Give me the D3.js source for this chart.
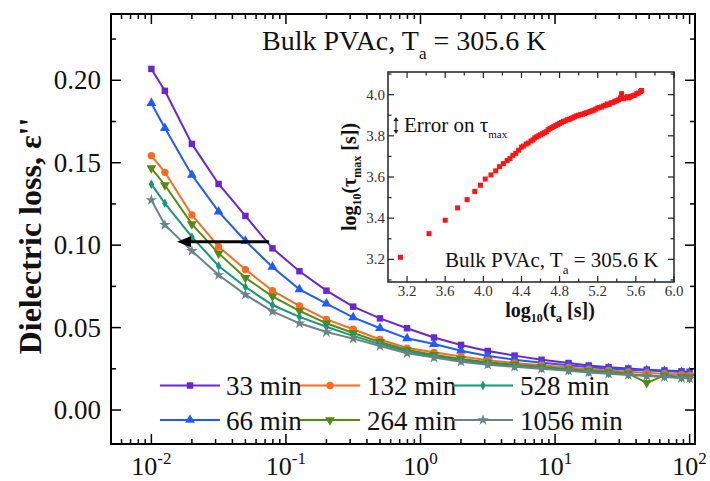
<!DOCTYPE html>
<html><head><meta charset="utf-8">
<script src="https://cdn.jsdelivr.net/npm/d3@7"></script>
<style>body{margin:0;background:#fff}svg{display:block}</style>
</head><body>
<svg id="c" width="710" height="481"></svg>
<script>
// ---------- data ----------
const freq = [0.01, 0.0126, 0.02, 0.0316, 0.05, 0.0794, 0.126, 0.2, 0.316, 0.5, 0.794, 1.26, 2, 3.16, 5, 7.94, 12.6, 17.8, 25, 35, 48, 65, 87, 100];
const seriesNames = ["33 min", "66 min", "132 min", "264 min", "528 min", "1056 min"];
const eps33   = [0.2069,0.1936,0.1614,0.1371,0.1177,0.0981,0.0842,0.0724,0.0627,0.0556,0.0496,0.0440,0.0395,0.0358,0.0330,0.0305,0.0285,0.0270,0.0260,0.0252,0.0245,0.0240,0.0235,0.0232];
const eps66   = [0.1861,0.1710,0.1426,0.1203,0.1025,0.0868,0.0732,0.0645,0.0562,0.0496,0.0435,0.0400,0.0360,0.0328,0.0305,0.0287,0.0272,0.0260,0.0252,0.0245,0.0240,0.0235,0.0230,0.0228];
const eps132  = [0.1543,0.1442,0.1183,0.0991,0.0852,0.0724,0.0632,0.0550,0.0490,0.0428,0.0376,0.0350,0.0325,0.0302,0.0286,0.0272,0.0258,0.0248,0.0240,0.0232,0.0225,0.0220,0.0215,0.0212];
const eps264  = [0.1467,0.1365,0.1128,0.0950,0.0802,0.0690,0.0602,0.0526,0.0467,0.0413,0.0364,0.0335,0.0310,0.0290,0.0275,0.0262,0.0248,0.0238,0.0230,0.0222,0.0165,0.0210,0.0202,0.0198];
const eps528  = [0.1370,0.1254,0.1050,0.0874,0.0746,0.0637,0.0565,0.0505,0.0450,0.0400,0.0355,0.0326,0.0300,0.0282,0.0268,0.0255,0.0242,0.0232,0.0224,0.0217,0.0210,0.0203,0.0197,0.0193];
const eps1056 = [0.1274,0.1123,0.0965,0.0819,0.0700,0.0598,0.0526,0.0473,0.0433,0.0388,0.0344,0.0318,0.0293,0.0275,0.0262,0.0250,0.0238,0.0228,0.0220,0.0213,0.0207,0.0200,0.0195,0.0191];
const yTicks = [0.00, 0.05, 0.10, 0.15, 0.20];
const xTickExps = [-2, -1, 0, 1, 2];
// arrow: from f=0.075 to f=0.0155 at eps''=0.1021
const arrowFreqs = [0.075, 0.0155];
const arrowEps = 0.1021;
// inset: log10(ta) vs log10(tau_max)
const insetLogTa = [3.13,3.43,3.60,3.73,3.83,3.91,3.97,4.02,4.08,4.13,4.17,4.21,4.25,4.28,4.31,4.34,4.37,4.40,4.42,4.45,4.47,4.50,4.52,4.54,4.56,4.58,4.60,4.62,4.64,4.66,4.68,4.70,4.72,4.74,4.76,4.78,4.80,4.82,4.84,4.86,4.88,4.90,4.92,4.94,4.96,4.98,5.00,5.02,5.04,5.06,5.08,5.10,5.12,5.14,5.16,5.18,5.20,5.22,5.24,5.26,5.28,5.30,5.32,5.34,5.36,5.38,5.40,5.42,5.44,5.45,5.47,5.49,5.51,5.53,5.55,5.57,5.59,5.61,5.63,5.65,5.66];
const insetLogTau = [3.21,3.325,3.39,3.45,3.49,3.53,3.56,3.59,3.61,3.63,3.65,3.665,3.68,3.69,3.705,3.715,3.73,3.745,3.75,3.76,3.765,3.775,3.78,3.79,3.795,3.80,3.805,3.81,3.815,3.82,3.83,3.835,3.84,3.845,3.85,3.855,3.86,3.865,3.87,3.872,3.878,3.88,3.885,3.888,3.893,3.897,3.90,3.903,3.905,3.908,3.912,3.915,3.918,3.922,3.925,3.93,3.935,3.938,3.94,3.945,3.948,3.955,3.952,3.96,3.962,3.968,3.97,3.975,3.985,4.005,3.98,3.985,3.99,3.985,3.992,3.995,3.998,4.005,4.008,4.015,4.02];
const insetXTicks = [3.2,3.6,4.0,4.4,4.8,5.2,5.6,6.0];
const insetYTicks = [3.2,3.4,3.6,3.8,4.0];

// ---------- styles ----------
const colors = ["#6a26d4", "#1f5bff", "#ff6a1e", "#578a12", "#17977a", "#688585"];
const symbols = [d3.symbolSquare, d3.symbolTriangle, d3.symbolCircle, d3.symbolTriangle, d3.symbolDiamond, d3.symbolStar];
const symSize = [42, 42, 42, 42, 26, 40];
const rot = [0, 0, 0, 180, 0, 0];
const allSeries = [eps33, eps66, eps132, eps264, eps528, eps1056];
const FONT = '"Liberation Serif", "Times New Roman", serif';

const svg = d3.select("#c");
const L = 111, R = 695, T = 14, B = 444;
const x = d3.scaleLog().domain([Math.pow(10, -2.3), Math.pow(10, 2.04)]).range([L, R]);
const y = d3.scaleLinear().domain([-0.0206, 0.2402]).range([B, T]);

function txt(sel, size) { return sel.style("font-family", FONT).style("font-size", size + "px").attr("fill", "#111"); }

// ---------- curves ----------
const line = d3.line().x((d, i) => x(freq[i])).y(d => y(d));
allSeries.forEach((s, k) => {
  const g = svg.append("g");
  g.append("path").attr("d", line(s)).attr("fill", "none").attr("stroke", colors[k]).attr("stroke-width", 2);
  g.selectAll("path.m").data(s).join("path").attr("class", "m")
    .attr("transform", (d, i) => `translate(${x(freq[i])},${y(d)}) rotate(${rot[k]})`)
    .attr("d", d3.symbol().type(symbols[k]).size(symSize[k])).attr("fill", colors[k]);
});

// ---------- black arrow ----------
{
  const x1 = x(arrowFreqs[0]), x2 = x(arrowFreqs[1]), ya = y(arrowEps);
  svg.append("line").attr("x1", x1).attr("x2", x2 + 10).attr("y1", ya).attr("y2", ya).attr("stroke", "#000").attr("stroke-width", 3);
  svg.append("path").attr("d", `M${x2},${ya} L${x2 + 14},${ya - 5.5} L${x2 + 14},${ya + 5.5} Z`).attr("fill", "#000");
}

// ---------- main axes ----------
const frame = svg.append("g");
frame.append("rect").attr("x", L).attr("y", T).attr("width", R - L).attr("height", B - T).attr("fill", "none").attr("stroke", "#000").attr("stroke-width", 2);
const xMinor = [];
for (let e = -3; e <= 2; e++) for (let m = 2; m <= 9; m++) { const v = m * Math.pow(10, e); if (x(v) > L + 1 && x(v) < R - 1) xMinor.push(v); }
xMinor.forEach(v => {
  frame.append("line").attr("x1", x(v)).attr("x2", x(v)).attr("y1", B).attr("y2", B - 5).attr("stroke", "#000").attr("stroke-width", 1.5);
  frame.append("line").attr("x1", x(v)).attr("x2", x(v)).attr("y1", T).attr("y2", T + 5).attr("stroke", "#000").attr("stroke-width", 1.5);
});
xTickExps.forEach(e => {
  const v = Math.pow(10, e);
  frame.append("line").attr("x1", x(v)).attr("x2", x(v)).attr("y1", B).attr("y2", B - 10).attr("stroke", "#000").attr("stroke-width", 1.5);
  frame.append("line").attr("x1", x(v)).attr("x2", x(v)).attr("y1", T).attr("y2", T + 10).attr("stroke", "#000").attr("stroke-width", 1.5);
  const t = txt(frame.append("text"), 26).attr("x", x(v)).attr("y", 475).attr("text-anchor", "middle");
  t.append("tspan").text("10");
  t.append("tspan").attr("dy", -11).style("font-size", "17px").text(e < 0 ? "-" + (-e) : String(e));
});
yTicks.forEach(v => {
  frame.append("line").attr("x1", L).attr("x2", L + 10).attr("y1", y(v)).attr("y2", y(v)).attr("stroke", "#000").attr("stroke-width", 1.5);
  frame.append("line").attr("x1", R).attr("x2", R - 10).attr("y1", y(v)).attr("y2", y(v)).attr("stroke", "#000").attr("stroke-width", 1.5);
  txt(frame.append("text"), 27).attr("x", L - 10).attr("y", y(v) + 9).attr("text-anchor", "end").text(d3.format(".2f")(v));
});
yTicks.map(v => v + 0.025).forEach(v => {
  frame.append("line").attr("x1", L).attr("x2", L + 5).attr("y1", y(v)).attr("y2", y(v)).attr("stroke", "#000").attr("stroke-width", 1.5);
  frame.append("line").attr("x1", R).attr("x2", R - 5).attr("y1", y(v)).attr("y2", y(v)).attr("stroke", "#000").attr("stroke-width", 1.5);
});
txt(svg.append("text"), 32).attr("transform", "translate(41,236) rotate(-90)").attr("text-anchor", "middle")
  .style("font-weight", "bold").text("Dielectric loss, ε''");
{
  const t = txt(svg.append("text"), 28).attr("x", 262).attr("y", 50);
  t.append("tspan").text("Bulk PVAc, T");
  t.append("tspan").attr("dy", 9).style("font-size", "17px").text("a");
  t.append("tspan").attr("dy", -9).text(" = 305.6 K");
}

// ---------- legend ----------
const legRows = [385.5, 420];
const legCols = [[160, 220, 226], [300, 360, 367], [453, 513, 520]];
const legOrder = [[0, 2, 4], [1, 3, 5]];
legOrder.forEach((row, r) => row.forEach((k, c) => {
  const [a, b, tx] = legCols[c], yy = legRows[r];
  svg.append("line").attr("x1", a).attr("x2", b).attr("y1", yy).attr("y2", yy).attr("stroke", colors[k]).attr("stroke-width", 2);
  svg.append("path").attr("transform", `translate(${(a + b) / 2},${yy}) rotate(${rot[k]})`)
    .attr("d", d3.symbol().type(symbols[k]).size(symSize[k])).attr("fill", colors[k]);
  txt(svg.append("text"), 27).attr("x", tx).attr("y", yy + 9.5).text(seriesNames[k]);
}));

// ---------- inset ----------
const iL = 388, iR = 674, iT = 72, iB = 282;
const ix = d3.scaleLinear().domain([3.0, 6.0]).range([iL, iR]);
const iy = d3.scaleLinear().domain([3.09, 4.11]).range([iB, iT]);
const ins = svg.append("g");
ins.append("rect").attr("x", iL).attr("y", iT).attr("width", iR - iL).attr("height", iB - iT).attr("fill", "#fff").attr("stroke", "#222").attr("stroke-width", 1.5);
d3.range(3.2, 6.01, 0.2).forEach(v => {
  const major = Math.abs(((v - 3.2) / 0.4) - Math.round((v - 3.2) / 0.4)) < 1e-6;
  const len = major ? 6 : 3.5;
  ins.append("line").attr("x1", ix(v)).attr("x2", ix(v)).attr("y1", iB).attr("y2", iB - len).attr("stroke", "#222").attr("stroke-width", 1.2);
  ins.append("line").attr("x1", ix(v)).attr("x2", ix(v)).attr("y1", iT).attr("y2", iT + len).attr("stroke", "#222").attr("stroke-width", 1.2);
});
insetXTicks.forEach(v => {
  txt(ins.append("text"), 15).attr("x", ix(v)).attr("y", 296).attr("text-anchor", "middle").attr("fill", "#333").text(v.toFixed(1));
});
d3.range(3.1, 4.11, 0.1).forEach(v => {
  const major = Math.abs(v * 5 - Math.round(v * 5)) < 1e-6;
  const len = major ? 6 : 3.5;
  ins.append("line").attr("x1", iL).attr("x2", iL + len).attr("y1", iy(v)).attr("y2", iy(v)).attr("stroke", "#222").attr("stroke-width", 1.2);
  ins.append("line").attr("x1", iR).attr("x2", iR - len).attr("y1", iy(v)).attr("y2", iy(v)).attr("stroke", "#222").attr("stroke-width", 1.2);
});
insetYTicks.forEach(v => {
  txt(ins.append("text"), 15).attr("x", iL - 3).attr("y", iy(v) + 5).attr("text-anchor", "end").attr("fill", "#333").text(v.toFixed(1));
});
ins.selectAll("rect.pt").data(insetLogTa).join("rect").attr("class", "pt")
  .attr("x", (d) => ix(d) - 2.5).attr("y", (d, i) => iy(insetLogTau[i]) - 2.5).attr("width", 5).attr("height", 5).attr("fill", "#ff1414");
{
  const t = txt(svg.append("text"), 20).attr("x", 550).attr("y", 317).attr("text-anchor", "middle").style("font-weight", "bold");
  t.append("tspan").text("log");
  t.append("tspan").attr("dy", 5).style("font-size", "12px").text("10");
  t.append("tspan").attr("dy", -5).text("(t");
  t.append("tspan").attr("dy", 5).style("font-size", "12px").text("a");
  t.append("tspan").attr("dy", -5).text(" [s])");
}
{
  const t = txt(svg.append("text"), 20).attr("transform", "translate(356,177) rotate(-90)").attr("text-anchor", "middle").style("font-weight", "bold");
  t.append("tspan").text("log");
  t.append("tspan").attr("dy", 5).style("font-size", "12px").text("10");
  t.append("tspan").attr("dy", -5).text("(τ");
  t.append("tspan").attr("dy", 5).style("font-size", "12px").text("max");
  t.append("tspan").attr("dy", -5).text(" [s])");
}
{
  const t = txt(svg.append("text"), 21).attr("x", 445).attr("y", 267);
  t.append("tspan").text("Bulk PVAc, T");
  t.append("tspan").attr("dy", 7).style("font-size", "13px").text("a");
  t.append("tspan").attr("dy", -7).text(" = 305.6 K");
}
{
  const t = txt(svg.append("text"), 21).attr("x", 404).attr("y", 132);
  t.append("tspan").text("Error on τ");
  t.append("tspan").attr("dy", 6).style("font-size", "11px").text("max");
  const ex = 396, e1 = 117, e2 = 134;
  svg.append("line").attr("x1", ex).attr("x2", ex).attr("y1", e1 + 2).attr("y2", e2 - 2).attr("stroke", "#222").attr("stroke-width", 1.2);
  svg.append("path").attr("d", `M${ex},${e1} L${ex - 2.5},${e1 + 4} L${ex + 2.5},${e1 + 4} Z M${ex},${e2} L${ex - 2.5},${e2 - 4} L${ex + 2.5},${e2 - 4} Z`).attr("fill", "#222");
}
</script>
</body></html>
